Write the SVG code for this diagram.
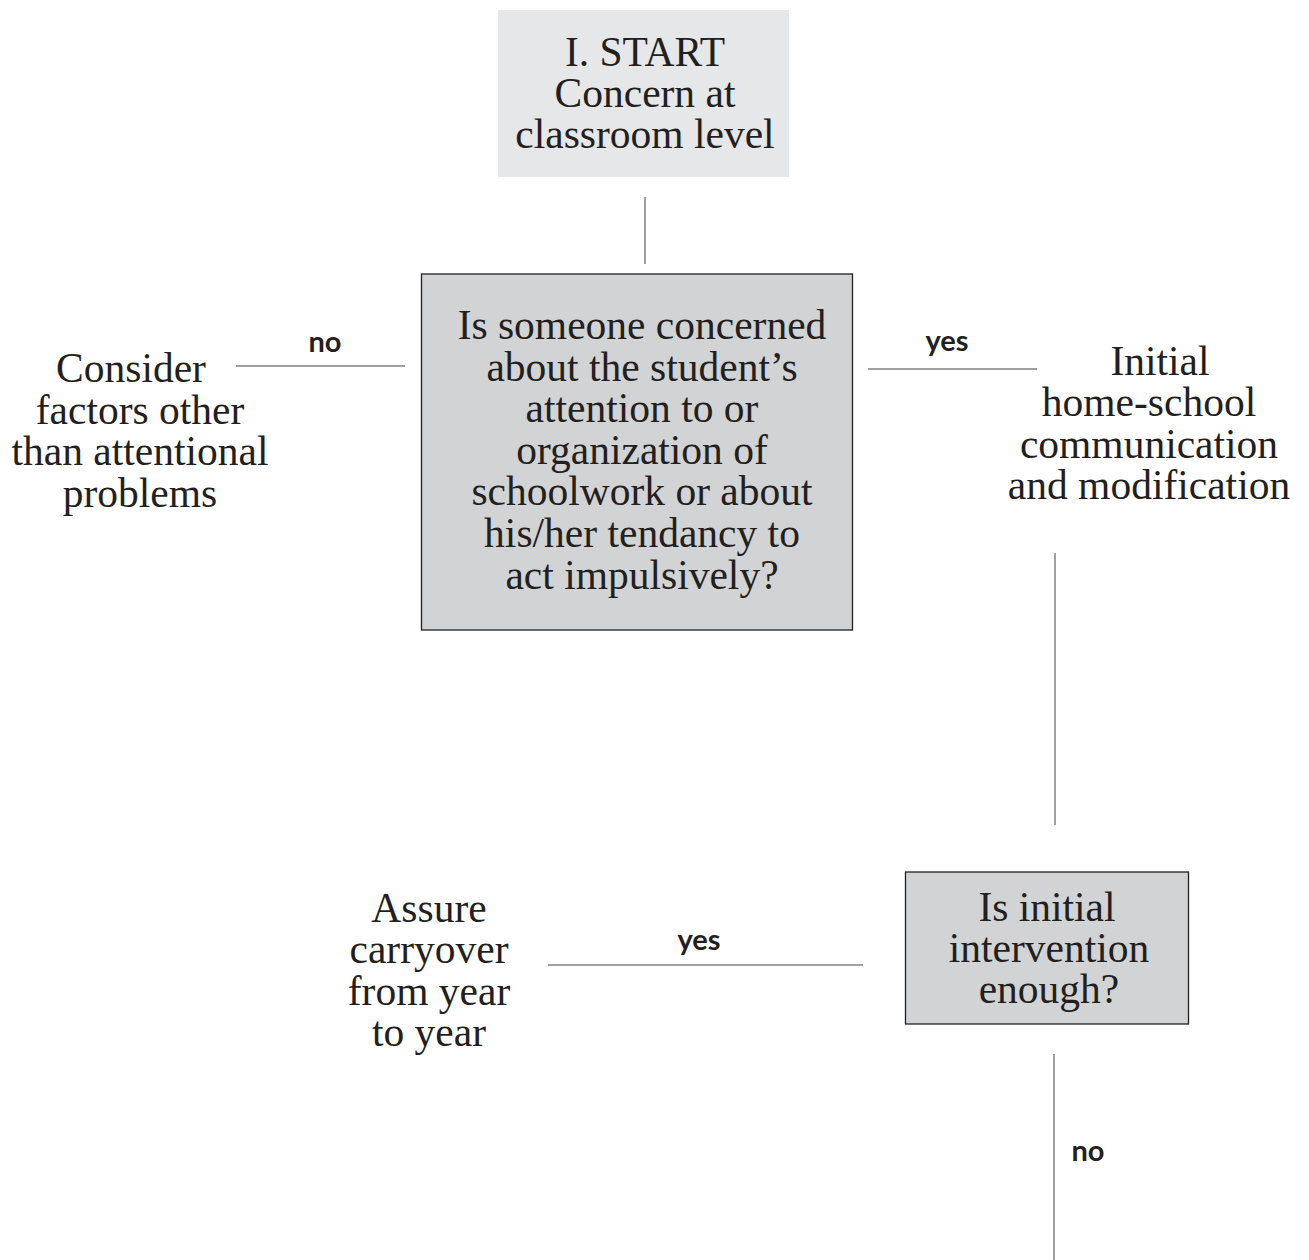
<svg xmlns="http://www.w3.org/2000/svg" width="1309" height="1260" viewBox="0 0 1309 1260">
<style>
.t{font-family:"Liberation Serif","Times New Roman",serif;font-size:41.5px;fill:#231f20;text-anchor:middle}
.lbl{font-family:Lato,"Open Sans",sans-serif;font-weight:700;font-size:29px;fill:#231f20;text-anchor:middle}
.c{stroke:#808080;stroke-width:1.5;fill:none}
.dec{fill:#d1d3d4;stroke:#231f20;stroke-width:1.3}
</style>
<rect width="1309" height="1260" fill="#ffffff"/>
<g id="connectors">
<line class="c" x1="645" y1="197" x2="645" y2="264"/>
<line class="c" x1="236" y1="366" x2="405" y2="366"/>
<line class="c" x1="868" y1="369" x2="1037" y2="369"/>
<line class="c" x1="1055" y1="553" x2="1055" y2="825"/>
<line class="c" x1="548" y1="965" x2="863" y2="965"/>
<line class="c" x1="1054" y1="1054" x2="1054" y2="1260"/>
<text class="lbl" x="325" y="352">no</text>
<text class="lbl" x="947" y="351">yes</text>
<text class="lbl" x="699" y="950">yes</text>
<text class="lbl" x="1088" y="1161">no</text>
</g>
<g id="start">
<rect x="498" y="10" width="291" height="167" fill="#e6e7e8"/>
<text class="t" x="645" y="66">I. START</text>
<text class="t" x="645" y="107">Concern at</text>
<text class="t" x="645" y="148">classroom level</text>
</g>
<g id="q1">
<rect class="dec" x="421.5" y="274" width="431" height="356"/>
<text class="t" x="642" y="339">Is someone concerned</text>
<text class="t" x="642" y="380.6">about the student’s</text>
<text class="t" x="642" y="422.2">attention to or</text>
<text class="t" x="642" y="463.8">organization of</text>
<text class="t" x="642" y="505.4">schoolwork or about</text>
<text class="t" x="642" y="547">his/her tendancy to</text>
<text class="t" x="642" y="588.6">act impulsively?</text>
</g>
<g id="consider">
<text class="t" x="131" y="382">Consider</text>
<text class="t" x="140" y="423.5">factors other</text>
<text class="t" x="140" y="465">than attentional</text>
<text class="t" x="140" y="506.5">problems</text>
</g>
<g id="initial">
<text class="t" x="1160" y="374.5">Initial</text>
<text class="t" x="1149" y="416">home-school</text>
<text class="t" x="1149" y="457.5">communication</text>
<text class="t" x="1149" y="499">and modification</text>
</g>
<g id="q2">
<rect class="dec" x="905.5" y="872" width="283" height="152"/>
<text class="t" x="1047" y="921">Is initial</text>
<text class="t" x="1049" y="962">intervention</text>
<text class="t" x="1049" y="1003">enough?</text>
</g>
<g id="assure">
<text class="t" x="429" y="922">Assure</text>
<text class="t" x="429" y="963">carryover</text>
<text class="t" x="429" y="1005">from year</text>
<text class="t" x="429" y="1046">to year</text>
</g>
</svg>
